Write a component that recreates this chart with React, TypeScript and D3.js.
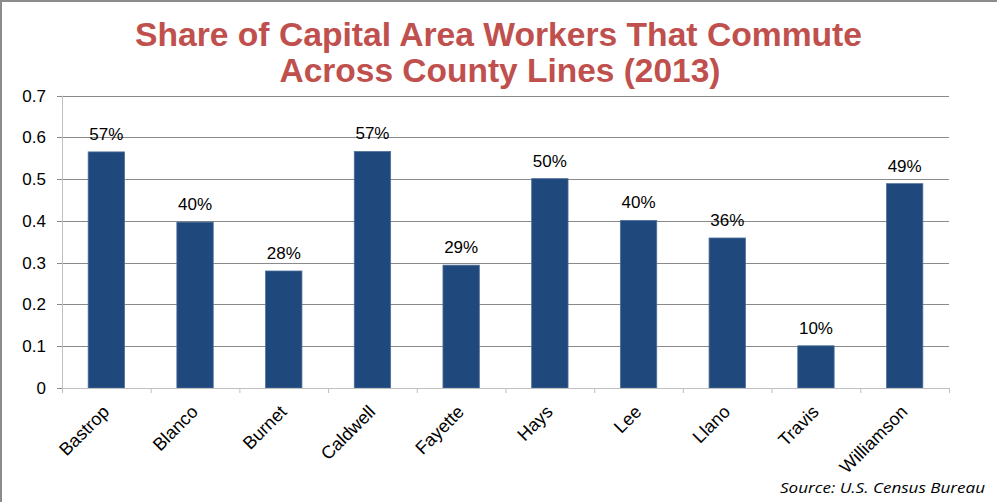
import React from "react";
import * as d3 from "d3";

const counties = ["Bastrop", "Blanco", "Burnet", "Caldwell", "Fayette", "Hays", "Lee", "Llano", "Travis", "Williamson"];
const shares = [0.565, 0.397, 0.28, 0.566, 0.294, 0.501, 0.401, 0.359, 0.101, 0.489];
const shareLabels = ["57%", "40%", "28%", "57%", "29%", "50%", "40%", "36%", "10%", "49%"];
const yTicks = [0, 0.1, 0.2, 0.3, 0.4, 0.5, 0.6, 0.7];
const titleLines = ["Share of Capital Area Workers That Commute", "Across County Lines (2013)"];
const sourceText = "Source: U.S. Census Bureau";

export default function App() {
  const W = 997, H = 502;
  const left = 62, right = 949, top = 95.5, bottom = 388;
  const x = d3.scaleBand<string>().domain(counties).range([left, right]).paddingInner(0.59).paddingOuter(0.295);
  const xc = d3.scaleBand<string>().domain(counties).range([left, right]);
  const y = d3.scaleLinear().domain([0, 0.7]).range([bottom, top]);
  const font = "Liberation Sans, Arial, sans-serif";
  return (
    <svg width={W} height={H} style={{ position: "absolute", left: 0, top: 0, background: "#fff" }}>
      <rect x={0} y={0} width={W} height={H} fill="#fff" />
      <line x1={0} x2={W} y1={1} y2={1} stroke="#8c8c8c" strokeWidth={2} />
      <line x1={1} x2={1} y1={0} y2={H} stroke="#8c8c8c" strokeWidth={2} />
      <text x={498.5} y={45.5} textAnchor="middle" fontFamily={font} fontWeight="bold" fontSize={33} fill="#c0504d" textLength={727} lengthAdjust="spacingAndGlyphs">{titleLines[0]}</text>
      <text x={500} y={82} textAnchor="middle" fontFamily={font} fontWeight="bold" fontSize={33} fill="#c0504d" textLength={441} lengthAdjust="spacingAndGlyphs">{titleLines[1]}</text>
      {yTicks.map((t) => (
        <g key={t}>
          {t > 0 && <line x1={left} x2={right} y1={Math.round(y(t)) + 0.5} y2={Math.round(y(t)) + 0.5} stroke="#8a8a8a" strokeWidth={1} />}
          <line x1={left - 5} x2={left} y1={Math.round(y(t)) + 0.5} y2={Math.round(y(t)) + 0.5} stroke="#8a8a8a" strokeWidth={1} />
          <text x={46} y={y(t) + 6} textAnchor="end" fontFamily={font} fontSize={17} fill="#000">{t === 0 ? "0" : t.toFixed(1)}</text>
        </g>
      ))}
      <line x1={left + 0.5} x2={left + 0.5} y1={top} y2={bottom + 5} stroke="#bfbfbf" strokeWidth={1} />
      {counties.map((c, i) => (
        <g key={c}>
          <rect x={x(c)} y={y(shares[i])} width={x.bandwidth()} height={bottom - y(shares[i])} fill="#1f497d" stroke="#4f6f9a" strokeWidth={0.8} />
          <text x={x(c)! + x.bandwidth() / 2} y={y(shares[i]) - 12} textAnchor="middle" fontFamily={font} fontSize={17} fill="#000">{shareLabels[i]}</text>
          <line x1={xc(c)! + xc.bandwidth() + 0.5} x2={xc(c)! + xc.bandwidth() + 0.5} y1={bottom} y2={bottom + 5} stroke="#bfbfbf" strokeWidth={1} />
          <text transform={`translate(${xc(c)! + xc.bandwidth() / 2 + 4},${bottom + 25}) rotate(-45)`} textAnchor="end" fontFamily={font} fontSize={18} fill="#000">{c}</text>
        </g>
      ))}
      <line x1={left} x2={right} y1={bottom + 0.5} y2={bottom + 0.5} stroke="#bfbfbf" strokeWidth={1} />
      <text x={985} y={493} textAnchor="end" fontFamily="Open Sans, DejaVu Sans, sans-serif" fontStyle="italic" fontSize={15} fill="#000" textLength={205} lengthAdjust="spacingAndGlyphs">{sourceText}</text>
    </svg>
  );
}
